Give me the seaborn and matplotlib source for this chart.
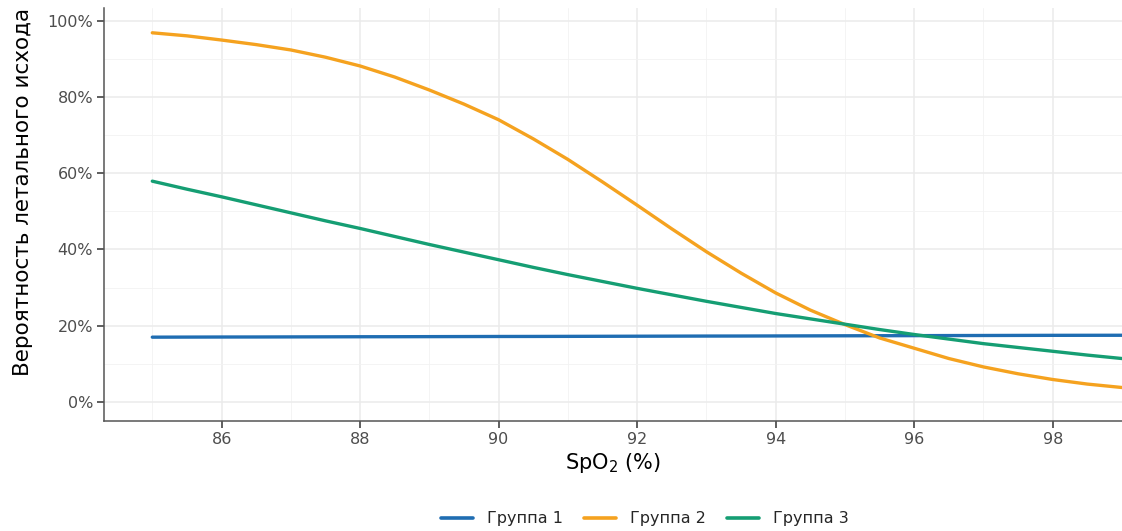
import matplotlib
matplotlib.use("Agg")
import matplotlib.pyplot as plt
import seaborn as sns
import pandas as pd
from matplotlib.ticker import FuncFormatter, MultipleLocator
from matplotlib.lines import Line2D

# ---- data ----
spo2 = [85, 85.5, 86, 86.5, 87, 87.5, 88, 88.5, 89, 89.5, 90, 90.5, 91, 91.5,
        92, 92.5, 93, 93.5, 94, 94.5, 95, 95.5, 96, 96.5, 97, 97.5, 98, 98.5, 99]
group1 = [17.0, 17.02, 17.04, 17.05, 17.07, 17.09, 17.11, 17.12, 17.14, 17.16,
          17.18, 17.19, 17.21, 17.23, 17.25, 17.27, 17.29, 17.30, 17.32, 17.34,
          17.36, 17.38, 17.40, 17.42, 17.44, 17.46, 17.48, 17.49, 17.5]
group2 = [96.8, 96.0, 94.9, 93.7, 92.3, 90.4, 88.1, 85.2, 81.8, 78.1,
          74.0, 69.0, 63.6, 57.7, 51.6, 45.4, 39.4, 33.8, 28.6, 24.1,
          20.3, 16.8, 14.1, 11.4, 9.2, 7.4, 5.9, 4.7, 3.8]
group3 = [57.9, 55.8, 53.8, 51.7, 49.6, 47.5, 45.5, 43.4, 41.3, 39.3,
          37.3, 35.3, 33.4, 31.6, 29.8, 28.1, 26.4, 24.8, 23.2, 21.8,
          20.4, 19.0, 17.7, 16.5, 15.3, 14.3, 13.3, 12.3, 11.4]
group_names = ["Группа 1", "Группа 2", "Группа 3"]
colors = ["#1f6db2", "#f5a21f", "#159e73"]
x_ticks = [86, 88, 90, 92, 94, 96, 98]
y_ticks = [0, 20, 40, 60, 80, 100]

df = pd.concat([
    pd.DataFrame({"spo2": spo2, "p": vals, "group": name})
    for name, vals in zip(group_names, [group1, group2, group3])
], ignore_index=True)

sns.set_theme(style="white")
plt.rcParams["font.family"] = ["DejaVu Sans"]
plt.rcParams["mathtext.fontset"] = "dejavusans"
plt.rcParams["mathtext.default"] = "regular"

W, H = 1122, 531
fig = plt.figure(figsize=(W / 100, H / 100), dpi=100)
ax = fig.add_axes([104.3 / W, 1 - 420.7 / H, 1 - 104.3 / W, (420.7 - 8) / H])

sns.lineplot(data=df, x="spo2", y="p", hue="group", palette=colors,
             hue_order=group_names, linewidth=2.4, ax=ax, legend=False, zorder=3)

ax.set_xlim(84.307, 99.0)
ax.set_ylim(-4.9, 103.3)
ax.set_xticks(x_ticks)
ax.set_yticks(y_ticks)
ax.xaxis.set_minor_locator(MultipleLocator(1))
ax.yaxis.set_minor_locator(MultipleLocator(10))
ax.yaxis.set_major_formatter(FuncFormatter(lambda v, _: f"{v:.0f}%"))

ax.grid(which="major", color="#ebebeb", linewidth=1.1, zorder=0)
ax.grid(which="minor", color="#f2f2f2", linewidth=0.6, zorder=0)
ax.set_axisbelow(True)

for s in ["top", "right"]:
    ax.spines[s].set_visible(False)
for s in ["left", "bottom"]:
    ax.spines[s].set_color("#555555")
    ax.spines[s].set_linewidth(1.1)

ax.tick_params(which="major", direction="out", length=5, width=1.1,
               color="#333333", labelsize=11.5, labelcolor="#4d4d4d", pad=3,
               bottom=True, left=True)
ax.tick_params(which="minor", length=0)

ax.set_xlabel("SpO$_2$ (%)", fontsize=15, color="black", labelpad=3)
ax.set_ylabel("Вероятность летального исхода", fontsize=15.5, color="black")
ax.yaxis.set_label_coords((33 - 104.3) / 1017.7, (420.7 - 192) / 412.7)

handles = [Line2D([0], [0], color=c, linewidth=2.6) for c in colors]
fig.legend(handles, group_names, loc="center", bbox_to_anchor=(645 / W, 1 - 519 / H),
           ncol=3, frameon=False, fontsize=11.5, handlelength=2.0,
           handletextpad=0.9, columnspacing=1.3)

fig.savefig("out.png", dpi=100, facecolor="white")
